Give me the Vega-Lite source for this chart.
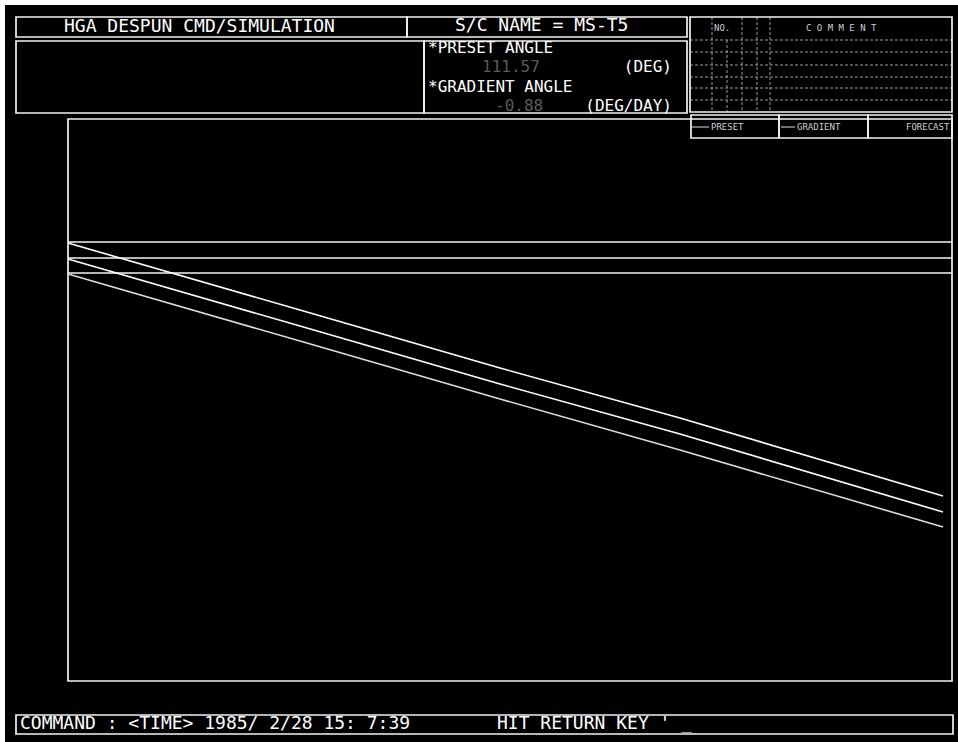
{
  "$schema": "https://vega.github.io/schema/vega-lite/v6.json",
  "autosize": {"type": "fit", "contains": "padding"},
  "width": 958,
  "height": 742,
  "padding": 0,
  "background": "#000000",
  "config": {
    "view": {"stroke": null},
    "axis": {"disable": true},
    "text": {"font": "DejaVu Sans Mono", "baseline": "middle", "align": "left"}
  },
  "datasets": {
    "border": [
      {"x": 0, "x2": 958, "y": 0, "y2": 5},
      {"x": 0, "x2": 5, "y": 0, "y2": 742}
    ],
    "boxes": [
      {"name": "title", "x": 16, "x2": 407, "y": 17, "y2": 37},
      {"name": "craft", "x": 407, "x2": 687, "y": 17, "y2": 37},
      {"name": "info", "x": 16, "x2": 424, "y": 41, "y2": 113},
      {"name": "angle", "x": 424, "x2": 687, "y": 41, "y2": 113},
      {"name": "table", "x": 690, "x2": 952, "y": 17, "y2": 112},
      {"name": "key_preset", "x": 691, "x2": 779, "y": 115, "y2": 138},
      {"name": "key_gradient", "x": 779, "x2": 868, "y": 115, "y2": 138},
      {"name": "key_forecast", "x": 868, "x2": 952, "y": 115, "y2": 138},
      {"name": "plot", "x": 68, "x2": 952, "y": 119, "y2": 681},
      {"name": "command", "x": 16, "x2": 953, "y": 715, "y2": 734}
    ],
    "grid": [
      {"x": 690, "x2": 952, "y": 40, "y2": 40},
      {"x": 690, "x2": 952, "y": 52, "y2": 52},
      {"x": 690, "x2": 952, "y": 65, "y2": 65},
      {"x": 690, "x2": 952, "y": 77, "y2": 77},
      {"x": 690, "x2": 952, "y": 88, "y2": 88},
      {"x": 690, "x2": 952, "y": 100, "y2": 100},
      {"x": 712, "x2": 712, "y": 17, "y2": 112},
      {"x": 727, "x2": 727, "y": 40, "y2": 112},
      {"x": 742, "x2": 742, "y": 17, "y2": 112},
      {"x": 757, "x2": 757, "y": 17, "y2": 112},
      {"x": 770, "x2": 770, "y": 17, "y2": 112}
    ],
    "keys": [
      {"x": 692, "x2": 709, "y": 127, "y2": 127},
      {"x": 781, "x2": 795, "y": 127, "y2": 127}
    ],
    "traces": [
      {"series": "preset_hi", "x": 68, "y": 242},
      {"series": "preset_hi", "x": 952, "y": 242},
      {"series": "preset", "x": 68, "y": 258},
      {"series": "preset", "x": 952, "y": 258},
      {"series": "preset_lo", "x": 68, "y": 273},
      {"series": "preset_lo", "x": 952, "y": 273},
      {"series": "gradient_hi", "x": 68, "y": 243},
      {"series": "gradient_hi", "x": 300, "y": 310},
      {"series": "gradient_hi", "x": 500, "y": 368},
      {"series": "gradient_hi", "x": 680, "y": 418},
      {"series": "gradient_hi", "x": 943, "y": 496},
      {"series": "gradient", "x": 68, "y": 259},
      {"series": "gradient", "x": 300, "y": 326},
      {"series": "gradient", "x": 500, "y": 384},
      {"series": "gradient", "x": 680, "y": 434},
      {"series": "gradient", "x": 943, "y": 512},
      {"series": "gradient_lo", "x": 68, "y": 274},
      {"series": "gradient_lo", "x": 300, "y": 341},
      {"series": "gradient_lo", "x": 500, "y": 399},
      {"series": "gradient_lo", "x": 680, "y": 450},
      {"series": "gradient_lo", "x": 943, "y": 527}
    ],
    "labels": [
      {"text": "HGA DESPUN CMD/SIMULATION", "x": 64, "y": 27},
      {"text": "S/C NAME = MS-T5", "x": 455, "y": 26},
      {"text": "COMMAND : <TIME> 1985/ 2/28 15: 7:39", "x": 20, "y": 724},
      {"text": "HIT RETURN KEY ' _", "x": 497, "y": 724}
    ],
    "angleLabels": [
      {"text": "*PRESET ANGLE", "x": 428, "y": 48},
      {"text": "*GRADIENT ANGLE", "x": 428, "y": 87}
    ],
    "units": [
      {"text": "(DEG)", "x": 672, "y": 67},
      {"text": "(DEG/DAY)", "x": 672, "y": 106}
    ],
    "values": [
      {"text": "111.57", "x": 482, "y": 67},
      {"text": "-0.88", "x": 495, "y": 106}
    ],
    "keyLabels": [
      {"text": "PRESET", "x": 711, "y": 127},
      {"text": "GRADIENT", "x": 797, "y": 127},
      {"text": "FORECAST", "x": 906, "y": 127},
      {"text": "NO.", "x": 714, "y": 28},
      {"text": "C O M M E N T", "x": 806, "y": 28}
    ]
  },
  "encoding": {
    "x": {"field": "x", "type": "quantitative", "scale": {"domain": [0, 958], "nice": false, "zero": false}, "axis": null},
    "y": {"field": "y", "type": "quantitative", "scale": {"domain": [0, 742], "nice": false, "zero": false, "reverse": true}, "axis": null}
  },
  "layer": [
    {
      "data": {"name": "border"},
      "mark": {"type": "rect", "fill": "#ffffff", "stroke": null},
      "encoding": {"x2": {"field": "x2"}, "y2": {"field": "y2"}}
    },
    {
      "data": {"name": "grid"},
      "mark": {"type": "rule", "stroke": "#9a9a9a", "strokeWidth": 1, "strokeDash": [3, 2]},
      "encoding": {"x2": {"field": "x2"}, "y2": {"field": "y2"}}
    },
    {
      "data": {"name": "boxes"},
      "mark": {"type": "rect", "filled": false, "stroke": "#f2f2f2", "strokeWidth": 1.7},
      "encoding": {"x2": {"field": "x2"}, "y2": {"field": "y2"}}
    },
    {
      "data": {"name": "keys"},
      "mark": {"type": "rule", "stroke": "#dddddd", "strokeWidth": 1},
      "encoding": {"x2": {"field": "x2"}, "y2": {"field": "y2"}}
    },
    {
      "data": {"name": "traces"},
      "mark": {"type": "line", "strokeWidth": 1.6},
      "encoding": {
        "detail": {"field": "series"},
        "color": {
          "field": "series",
          "type": "nominal",
          "legend": null,
          "scale": {
            "domain": ["preset_hi", "preset", "preset_lo", "gradient_hi", "gradient", "gradient_lo"],
            "range": ["#f4f4f4", "#f4f4f4", "#f4f4f4", "#ffffff", "#ffffff", "#dcdcdc"]
          }
        }
      }
    },
    {
      "data": {"name": "labels"},
      "mark": {"type": "text", "fill": "#ffffff", "fontSize": 18},
      "encoding": {"text": {"field": "text"}}
    },
    {
      "data": {"name": "angleLabels"},
      "mark": {"type": "text", "fill": "#ffffff", "fontSize": 16},
      "encoding": {"text": {"field": "text"}}
    },
    {
      "data": {"name": "units"},
      "mark": {"type": "text", "fill": "#ffffff", "fontSize": 16, "align": "right"},
      "encoding": {"text": {"field": "text"}}
    },
    {
      "data": {"name": "values"},
      "mark": {"type": "text", "fill": "#5a5a5a", "fontSize": 16},
      "encoding": {"text": {"field": "text"}}
    },
    {
      "data": {"name": "keyLabels"},
      "mark": {"type": "text", "fill": "#cfcfcf", "fontSize": 9},
      "encoding": {"text": {"field": "text"}}
    }
  ]
}
